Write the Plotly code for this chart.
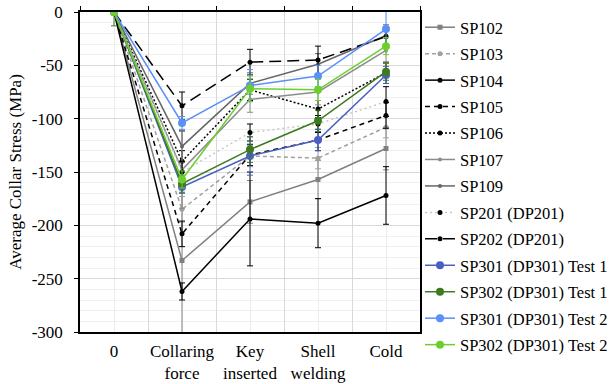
import plotly.graph_objects as go

# ---- data ----
categories = ["0", "Collaring<br>force", "Key<br>inserted", "Shell<br>welding", "Cold"]
y_ticks = [0, -50, -100, -150, -200, -250, -300]
y_ticklabels = ["0", "-50", "-100", "-150", "-200", "-250", "-300"]

series_names = ["SP102", "SP103", "SP104", "SP105", "SP106", "SP107", "SP109",
                "SP201 (DP201)", "SP202 (DP201)", "SP301 (DP301) Test 1",
                "SP302 (DP301) Test 1", "SP301 (DP301) Test 2", "SP302 (DP301) Test 2"]

sp102 = [0, -233, -178, -157, -128]
sp103 = [0, -185, -135, -137, -108]
sp104 = [0, -262, -194, -198, -172]
sp105 = [0, -208, -134, -120, -97]
sp106 = [0, -140, -73, -91, -57]
sp107 = [0, -148, -82, -75, -36]
sp109 = [0, -126, -67, -49, -22]
sp201 = [0, -150, -113, -105, -84]
sp202 = [0, -88, -47, -45, -23]
sp301_t1 = [0, -164, -135, -120, -59]
sp302_t1 = [0, -161, -129, -102, -56]
sp301_t2 = [0, -104, -69, -60, -16]
sp302_t2 = [0, -157, -72, -73, -32]

err102 = [0, 70, 20, 18, 20]
err103 = [0, 12, 10, 10, 10]
err104 = [0, 8, 44, 23, 27]
err105 = [0, 12, 10, 10, 12]
err106 = [0, 10, 10, 8, 10]
err107 = [0, 36, 12, 12, 12]
err109 = [0, 15, 10, 10, 10]
err201 = [0, 10, 8, 8, 14]
err202 = [0, 13, 12, 13, 8]
err301_t1 = [0, 6, 18, 10, 8]
err302_t1 = [13, 8, 12, 10, 8]
err301_t2 = [0, 6, 15, 10, 17]
err302_t2 = [0, 8, 12, 10, 8]

values = [sp102, sp103, sp104, sp105, sp106, sp107, sp109, sp201, sp202,
          sp301_t1, sp302_t1, sp301_t2, sp302_t2]
errors = [err102, err103, err104, err105, err106, err107, err109, err201, err202,
          err301_t1, err302_t1, err301_t2, err302_t2]

# ---- styles ----
styles = [
    dict(color="#808080", dash="solid", mcolor="#808080", symbol="square", msize=5, width=1.5),
    dict(color="#a0a0a0", dash="4px,3px", mcolor="#a0a0a0", symbol="circle", msize=5, width=1.5),
    dict(color="#000000", dash="solid", mcolor="#000000", symbol="circle", msize=5, width=1.5),
    dict(color="#000000", dash="5px,4px", mcolor="#000000", symbol="circle", msize=5, width=1.5),
    dict(color="#000000", dash="2px,2px", mcolor="#000000", symbol="circle", msize=5, width=1.5),
    dict(color="#8c8c8c", dash="solid", mcolor="#8c8c8c", symbol="circle", msize=4, width=1.5),
    dict(color="#666666", dash="solid", mcolor="#666666", symbol="circle", msize=4, width=1.5),
    dict(color="#c8c8c8", dash="2px,3px", mcolor="#000000", symbol="circle", msize=5, width=1.5),
    dict(color="#000000", dash="12px,6px", mcolor="#000000", symbol="circle", msize=5, width=1.5),
    dict(color="#4a5fc1", dash="solid", mcolor="#4a5fc1", symbol="circle", msize=8, width=1.5),
    dict(color="#3d7a1e", dash="solid", mcolor="#3d7a1e", symbol="circle", msize=8, width=1.5),
    dict(color="#5b8ff9", dash="solid", mcolor="#5b8ff9", symbol="circle", msize=8, width=1.5),
    dict(color="#6ccf2e", dash="solid", mcolor="#6ccf2e", symbol="circle", msize=8, width=1.5),
]

fig = go.Figure()

for name, vals, errs, st in zip(series_names, values, errors, styles):
    fig.add_trace(go.Scatter(
        x=categories, y=vals, name=name, legendgroup=name,
        mode="lines+markers",
        line=dict(color=st["color"], dash=st["dash"], width=st["width"]),
        marker=dict(color=st["mcolor"], symbol=st["symbol"], size=st["msize"]),
        error_y=dict(type="data", array=errs, visible=True,
                     color=st["mcolor"] if st["color"] == "#c8c8c8" else st["color"],
                     thickness=1, width=3),
        xaxis="x", yaxis="y",
    ))

# invisible helper trace for the top axis
fig.add_trace(go.Scatter(x=categories, y=[None] * len(categories), xaxis="x2", yaxis="y",
                         showlegend=False, hoverinfo="skip", mode="lines"))

font_family = "Liberation Serif"

fig.update_layout(
    width=613, height=384,
    margin=dict(l=80, r=193, t=12, b=52, autoexpand=False),
    plot_bgcolor="white", paper_bgcolor="white",
    font=dict(family=font_family, size=17, color="black"),
    showlegend=True,
    legend=dict(xref="paper", yref="paper", x=340 / 340, y=(332 - 10) / 320,
                xanchor="left", yanchor="top", font=dict(size=16.5, family=font_family),
                tracegroupgap=2, bgcolor="rgba(0,0,0,0)", itemwidth=30, maxheight=380),
    xaxis=dict(type="category", categoryorder="array", categoryarray=categories,
               range=[-0.5, 4.5], showgrid=True, gridcolor="#ececec", gridwidth=1,
               ticks="", showline=True, linecolor="black", linewidth=1.5, mirror=True,
               zeroline=False, ticklabelstandoff=3, tickfont=dict(size=17), automargin=False),
    xaxis2=dict(type="category", categoryorder="array", categoryarray=categories,
                range=[-0.5, 4.5], overlaying="x", side="top", anchor="y",
                tickson="boundaries", ticks="outside", ticklen=4, tickcolor="black",
                showticklabels=False, showgrid=True, gridcolor="#d9d9d9",
                showline=True, linecolor="black", linewidth=1.5, zeroline=False,
                automargin=False),
    yaxis=dict(range=[-300, 0], tickmode="array", tickvals=y_ticks, ticktext=y_ticklabels,
               ticks="outside", ticklen=4, tickcolor="black",
               showline=True, linecolor="black", linewidth=1.5, mirror=True,
               showgrid=True, gridcolor="#d9d9d9", zeroline=False,
               minor=dict(tickmode="linear", tick0=0, dtick=10, showgrid=True,
                          gridcolor="#f0f0f0", ticks=""),
               ticklabelstandoff=8, tickfont=dict(size=17), automargin=False,
               title=dict(text="Average Collar Stress (MPa)", font=dict(size=17), standoff=6)),
)

fig.write_html("out.html")
